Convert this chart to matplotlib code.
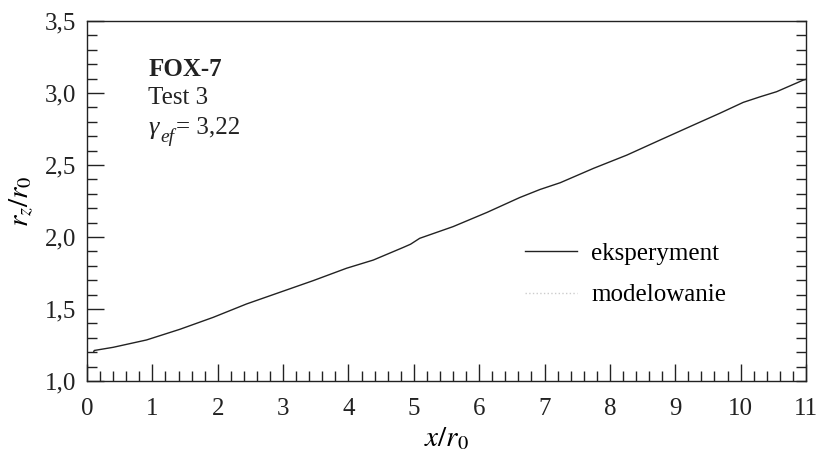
import matplotlib
matplotlib.use("Agg")
import matplotlib.pyplot as plt
from matplotlib.lines import Line2D
from matplotlib.ticker import MultipleLocator, FuncFormatter

plt.rcParams['font.family'] = ['Liberation Serif', 'DejaVu Serif']
plt.rcParams['mathtext.fontset'] = 'stix'

# experiment curve (x/r0, rz/r0)
x_exp = [0.10, 0.11, 0.40, 0.91, 1.42, 1.93, 2.44, 2.95, 3.46, 3.97, 4.38,
         4.84, 4.95, 5.09, 5.60, 6.12, 6.62, 6.93, 7.24, 7.75, 8.26, 8.77,
         9.28, 9.68, 10.04, 10.30, 10.55, 10.96, 11.0]
y_exp = [1.200, 1.212, 1.234, 1.285, 1.359, 1.442, 1.535, 1.616, 1.697, 1.783, 1.840,
         1.928, 1.950, 1.991, 2.072, 2.171, 2.274, 2.330, 2.377, 2.477, 2.569, 2.674,
         2.778, 2.859, 2.935, 2.974, 3.009, 3.090, 3.095]

legend_labels = ["eksperyment", "modelowanie"]
annot_lines = ["FOX-7", "Test 3", "γ", "ef", "= 3,22"]

fig = plt.figure(figsize=(8.18, 4.51), dpi=100)
ax = fig.add_axes([0.1064, 0.1552, 0.8789, 0.7982])

ax.plot(x_exp, y_exp, color='#222222', lw=1.0)

ax.set_xlim(0, 11)
ax.set_ylim(1.0, 3.5)

ax.xaxis.set_major_locator(MultipleLocator(1))
ax.xaxis.set_minor_locator(MultipleLocator(0.2))
ax.yaxis.set_major_locator(MultipleLocator(0.5))
ax.yaxis.set_minor_locator(MultipleLocator(0.1))
ax.yaxis.set_major_formatter(FuncFormatter(lambda v, p: f"{v:.1f}".replace('.', ',')))

for s in ax.spines.values():
    s.set_linewidth(1.0)
    s.set_color('#222222')

ax.tick_params(axis='both', which='both', direction='in', colors='#222222',
               labelsize=18, width=1.0)
ax.tick_params(axis='x', which='major', length=12, pad=12, top=False)
ax.tick_params(axis='x', which='minor', length=7, top=False)
ax.tick_params(axis='y', which='major', length=12, pad=8, right=True)
ax.tick_params(axis='y', which='minor', length=7, right=True)
for t in ax.yaxis.get_major_ticks():
    t.tick2line.set_markersize(7)

ax.set_xlabel(r"$x/r_0$", fontsize=21, labelpad=4)
ax.set_ylabel(r"$r_z/r_0$", fontsize=21, labelpad=6)

tx = 0.085
ax.text(tx, 0.864, annot_lines[0], transform=ax.transAxes, fontsize=18,
        fontweight='bold', va='center', color='#222222')
ax.text(tx, 0.786, annot_lines[1], transform=ax.transAxes, fontsize=18,
        va='center', color='#222222')
ax.annotate(annot_lines[2], xy=(tx, 0.703), xycoords='axes fraction',
            xytext=(0, 0), textcoords='offset pixels', fontsize=19,
            fontstyle='italic', va='center', color='#222222')
ax.annotate(annot_lines[3], xy=(tx, 0.703), xycoords='axes fraction',
            xytext=(12, -9), textcoords='offset pixels', fontsize=14,
            fontstyle='italic', va='center', color='#222222')
ax.annotate(annot_lines[4], xy=(tx, 0.703), xycoords='axes fraction',
            xytext=(28, 0), textcoords='offset pixels', fontsize=18,
            va='center', color='#222222')

handles = [Line2D([], [], color='#222222', lw=1.0),
           Line2D([], [], color='#cccccc', lw=1.0, ls=':')]
ax.legend(handles, legend_labels, loc='center left', bbox_to_anchor=(0.609, 0.296),
          frameon=False, fontsize=18, handlelength=2.1, handletextpad=0.55,
          labelspacing=0.75, borderaxespad=0, borderpad=0)

fig.savefig("out.png", dpi=100)
